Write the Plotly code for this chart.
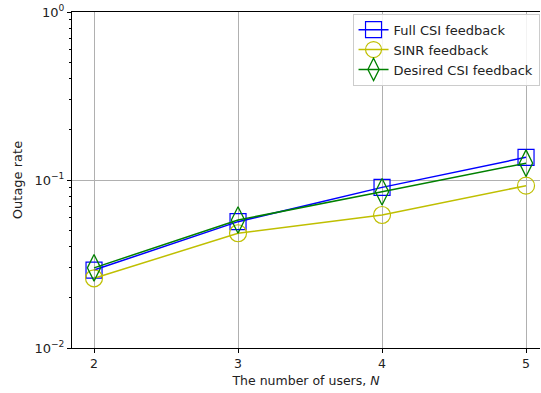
import plotly.graph_objects as go

users = [2, 3, 4, 5]
full_csi = [0.0291, 0.0565, 0.0904, 0.1365]
sinr = [0.0260, 0.0482, 0.0619, 0.0925]
desired_csi = [0.0300, 0.0578, 0.0851, 0.1260]

ytick_vals = [0.01, 0.1, 1]
ytick_text = ["10<sup>\u22122</sup>", "10<sup>\u22121</sup>", "10<sup>0</sup>"]
xtick_vals = [2, 3, 4, 5]

fig = go.Figure()
fig.add_trace(go.Scatter(x=users, y=full_csi, name="Full CSI feedback", mode="lines+markers",
                         line=dict(color="#0000ff", width=1.5),
                         marker=dict(symbol="square-open", size=16, color="#0000ff", line=dict(width=1.2))))
fig.add_trace(go.Scatter(x=users, y=sinr, name="SINR feedback", mode="lines+markers",
                         line=dict(color="#bfbf00", width=1.5),
                         marker=dict(symbol="circle-open", size=17, color="#bfbf00", line=dict(width=1.2))))
fig.add_trace(go.Scatter(x=users, y=desired_csi, name="Desired CSI feedback", mode="lines+markers",
                         line=dict(color="#008000", width=1.5),
                         marker=dict(symbol="diamond-tall-open", size=19, color="#008000", line=dict(width=1.3))))

fig.update_layout(
    width=541, height=393,
    margin=dict(l=72, r=1, t=12, b=45),
    paper_bgcolor="white", plot_bgcolor="white",
    font=dict(family="DejaVu Sans", size=12, color="#222222"),
    showlegend=True,
    legend=dict(x=0.999, y=0.995, xanchor="right", yanchor="top",
                bgcolor="rgba(255,255,255,0.85)", bordercolor="#cccccc", borderwidth=1,
                font=dict(size=13), tracegroupgap=0, itemwidth=30),
)
fig.update_xaxes(
    range=[1.847, 5.097], tickvals=xtick_vals, ticktext=[str(v) for v in xtick_vals],
    showgrid=True, gridcolor="#b0b0b0", gridwidth=0.8,
    showline=True, linecolor="black", linewidth=1, mirror=True,
    ticks="outside", ticklen=4, tickcolor="black", zeroline=False,
    title=dict(text="The number of users, <i>N</i>", font=dict(size=12.5), standoff=6),
    tickfont=dict(size=12.5),
)
fig.update_yaxes(
    type="log", range=[-2, 0], tickvals=ytick_vals, ticktext=ytick_text,
    showgrid=True, gridcolor="#b0b0b0", gridwidth=0.8,
    showline=True, linecolor="black", linewidth=1,
    ticks="outside", ticklen=4, tickcolor="black", zeroline=False,
    minor=dict(ticks="outside", ticklen=2, tickcolor="black", dtick="D1", showgrid=False),
    title=dict(text="Outage rate", font=dict(size=13), standoff=8),
    tickfont=dict(size=13),
)

fig.write_html("out.html", config={"displayModeBar": False},
               post_script="document.body.style.margin='0';document.body.style.overflow='hidden';")
